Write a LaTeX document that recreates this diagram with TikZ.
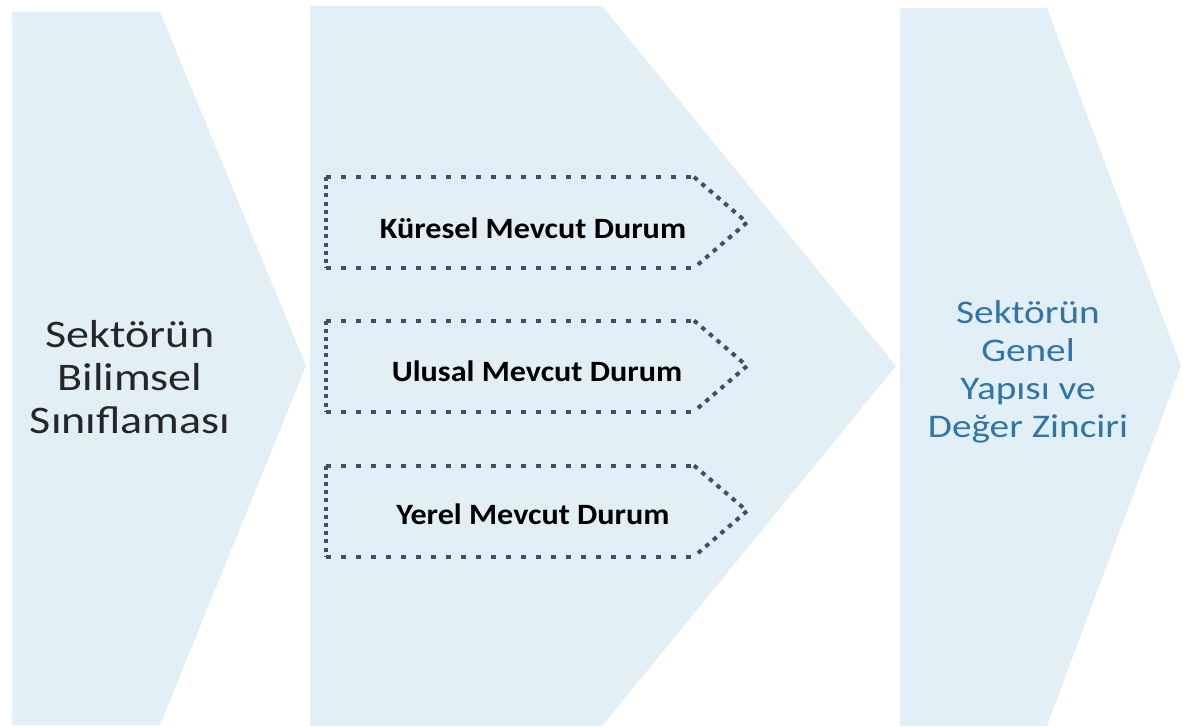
\documentclass[tikz,border=0pt]{standalone}
\usepackage{fontspec}
\setmainfont{Carlito}
\usepackage{graphicx}
\definecolor{chev}{RGB}{226,239,246}
\definecolor{dotc}{RGB}{62,80,104}
\definecolor{txtA}{RGB}{38,38,38}
\definecolor{txtC}{RGB}{47,117,170}
\newcommand\mydotbox[1]{%
  \draw[dotH] (326,{#1-45.5}) -- (694,{#1-45.5});
  \draw[dotH] (326,{#1+45.5}) -- (694,{#1+45.5});
  \draw[dotV] (326,{#1-45.5}) -- (326,{#1+45.5});
  \draw[dotS] (694,{#1-45.5}) -- (747,#1) -- (694,{#1+45.5});
}
\begin{document}
\begin{tikzpicture}[x=1pt,y=-1pt,
  chevron/.style={fill=chev,draw=none},
  dotH/.style={draw=dotc,line width=4pt,dash pattern=on 5pt off 10pt},
  dotV/.style={draw=dotc,line width=4pt,dash pattern=on 4pt off 4.2pt},
  dotS/.style={draw=dotc,line width=4pt,dash pattern=on 4.5pt off 5.5pt},
  bigA/.style={text=txtA,inner sep=0pt,font=\fontsize{39}{43}\selectfont},
  bigC/.style={text=txtC,inner sep=0pt,font=\fontsize{33}{38}\selectfont},
  inner/.style={text=black,inner sep=0pt,anchor=base,font=\bfseries\fontsize{29.5}{32}\selectfont}]
\useasboundingbox (0,0) rectangle (1183,727);
\fill[white] (0,0) rectangle (1183,727);
% chevrons
\path[chevron] (12,12) -- (160,12) -- (306,366) -- (160,725) -- (12,725) -- cycle;
\path[chevron] (310,6) -- (602,6) -- (896,366) -- (602,726) -- (310,726) -- cycle;
\path[chevron] (900,8) -- (1047,8) -- (1181,366) -- (1047,726) -- (900,726) -- cycle;
% dotted boxes
\mydotbox{222.5}
\mydotbox{366}
\mydotbox{511}
% texts
\node[bigA] (t1) at (130,381.5) {\scalebox{1.18}[1]{\begin{tabular}{@{}c@{}}Sektörün\\Bilimsel\\Sınıflaması\end{tabular}}};
\node[bigC] (t3) at (1028,372.5) {\scalebox{1.19}[1]{\begin{tabular}{@{}c@{}}Sektörün\\Genel\\Yapısı ve\\Değer Zinciri\end{tabular}}};
\node[inner] (k) at (533,239) {\scalebox{1.09}[1]{Küresel Mevcut Durum}};
\node[inner] (u) at (537,381) {\scalebox{1.09}[1]{Ulusal Mevcut Durum}};
\node[inner] (y) at (533,524) {\scalebox{1.09}[1]{Yerel Mevcut Durum}};
\end{tikzpicture}
\end{document}
